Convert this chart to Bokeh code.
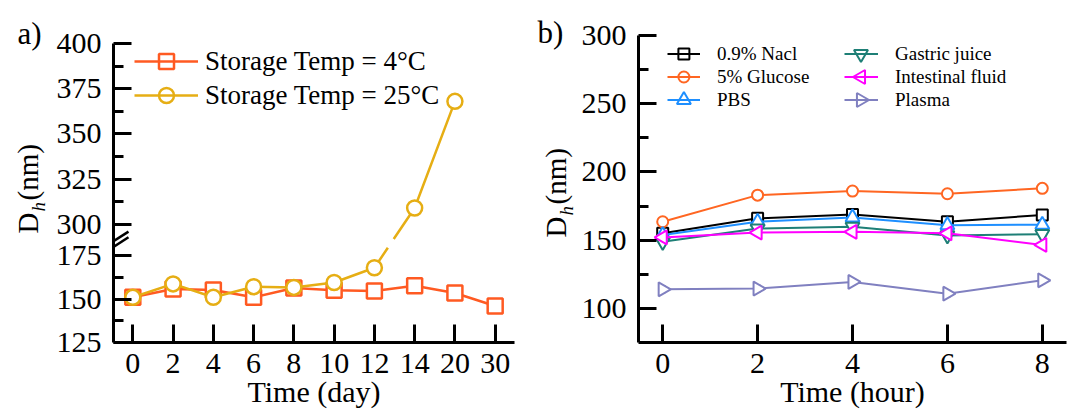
import math
from bokeh.plotting import figure
from bokeh.models import (Range1d, FixedTicker, Label, Legend, LegendItem,
                          ColumnDataSource, Whisker, TeeHead, Arrow)
from bokeh.layouts import row
from bokeh.embed import file_html
from bokeh.resources import INLINE

FONT = "Liberation Serif"

# ---------------- panel a data ----------------
day_labels = ["0", "2", "4", "6", "8", "10", "12", "14", "20", "30"]
dh_4c = [151, 155.8, 155.2, 151, 156.3, 155, 154.6, 157.7, 153.5, 146]
err_4c = [2.5, 2.5, 2.5, 2.5, 2.5, 2.5, 2.5, 2.5, 2.5, 2.5]
dh_25c = [151, 158.7, 151, 157.1, 156.7, 159.5, 168, 309, 368]
err_25c = [2, 2.5, 2.5, 2.5, 2, 2.5, 2.5, 2.5, 2.5]

# ---------------- panel b data ----------------
hours = [0, 2, 4, 6, 8]
nacl = [155, 166, 168.8, 163.5, 168.5]
glucose = [163.5, 183, 186, 184, 188]
pbs = [153.8, 163.5, 166.7, 161, 161.3]
gastric = [148.8, 158.5, 159.8, 153.5, 154.4]
intestinal = [152, 155.6, 156.1, 155, 146.5]
plasma = [114, 114.5, 119.4, 110.8, 120.6]
err_b = 2.5

# ---------------- axis break (panel a) ----------------
LOW_MAX = 182      # transformed value where the break sits
UP_MIN = 300       # first value of the upper segment
UP_T = 193         # transformed position of UP_MIN
UP_K = 1.04        # scale of the upper segment


def tr(v):
    return v if v <= LOW_MAX else UP_T + (v - UP_MIN) * UP_K


def broken_line(xs, ys, half_gap=2.5):
    ox, oy = [], []
    for i, (x, y) in enumerate(zip(xs, ys)):
        if i > 0:
            x0, y0 = xs[i - 1], ys[i - 1]
            if (y0 - LOW_MAX) * (y - LOW_MAX) < 0:
                lo, hi = LOW_MAX - half_gap, LOW_MAX + half_gap
                ya, yb = (lo, hi) if y0 < y else (hi, lo)
                xa = x0 + (ya - y0) / (y - y0) * (x - x0)
                xb = x0 + (yb - y0) / (y - y0) * (x - x0)
                ox += [xa, float("nan"), xb]
                oy += [ya, float("nan"), yb]
        ox.append(x)
        oy.append(y)
    return ox, oy


H = 412


def no_align(p):
    try:
        p.frame_align = False
    except Exception:
        pass


def style_axes(p, xlabel):
    for ax in (p.xaxis[0], p.yaxis[0]):
        ax.axis_line_width = 3
        ax.axis_line_color = "black"
        ax.major_tick_line_width = 3
        ax.minor_tick_line_width = 3
        ax.major_tick_line_color = "black"
        ax.minor_tick_line_color = "black"
        ax.major_tick_in = 18
        ax.major_tick_out = 0
        ax.minor_tick_in = 10
        ax.minor_tick_out = 0
        ax.major_label_text_font = FONT
        ax.major_label_text_font_size = "30px"
        ax.major_label_text_color = "black"
    p.yaxis[0].major_label_standoff = 12
    p.xaxis[0].major_label_standoff = 11
    p.xaxis[0].axis_label = xlabel
    p.xaxis[0].axis_label_text_font = FONT
    p.xaxis[0].axis_label_text_font_size = "30px"
    p.xaxis[0].axis_label_text_font_style = "normal"
    p.xaxis[0].axis_label_text_color = "black"
    p.xaxis[0].axis_label_standoff = -1
    p.outline_line_color = None
    p.xgrid.visible = False
    p.ygrid.visible = False
    no_align(p)


def side_fig(w):
    s = figure(width=w, height=H, x_range=Range1d(0, 1), y_range=Range1d(0, 1),
               x_axis_type=None, y_axis_type=None, output_backend="svg",
               toolbar_location=None, title=None, min_border=0)
    s.outline_line_color = None
    s.xgrid.visible = False
    s.ygrid.visible = False
    no_align(s)
    return s


def ylabel(s, base_x, d_y, h_y, nm_y):
    """rotated 'D_h(nm)'; base_x = baseline x of the big letters (page px)"""
    kw = dict(x_units="screen", y_units="screen", angle=math.pi / 2,
              text_align="left", text_baseline="middle", text_font=FONT,
              text_color="black")
    s.add_layout(Label(text="D", x=base_x - 10, y=H - d_y, text_font_size="29px", **kw))
    s.add_layout(Label(text="h", x=base_x + 1, y=H - h_y, text_font_size="19px",
                       text_font_style="italic", **kw))
    s.add_layout(Label(text="(nm)", x=base_x - 10, y=H - nm_y, text_font_size="29px", **kw))


def legend_marks(p, fw, fh, x0, y0, gw, gh, n):
    """data coords of legend glyph centres (legend bottom-left at x0, y0 in frame px)"""
    xr, yr = p.x_range, p.y_range
    cx = x0 + gw / 2
    xs, ys = [], []
    for i in range(n):
        cy = y0 + n * gh - (i + 0.5) * gh
        xs.append(xr.start + cx / fw * (xr.end - xr.start))
        ys.append(yr.start + cy / fh * (yr.end - yr.start))
    return xs, ys


# ================= side a =================
SA_W = 52
sa = side_fig(SA_W)
sa.add_layout(Label(text="a)", x=17, y=H - 33, x_units="screen", y_units="screen",
                    text_font=FONT, text_font_size="31px", text_color="black",
                    text_align="left", text_baseline="alphabetic"))
ylabel(sa, 37, 233, 211, 200)

# ================= panel a =================
P1_W = 478
L1, R1, T1, B1 = 61, 16, 43, 70
FW1, FH1 = P1_W - L1 - R1, H - T1 - B1
p1 = figure(width=P1_W, height=H, x_range=Range1d(-0.48, 9.48),
            y_range=Range1d(125, tr(400)), output_backend="svg",
            toolbar_location=None, title=None,
            min_border_left=L1, min_border_right=R1,
            min_border_top=T1, min_border_bottom=B1)
style_axes(p1, "Time (day)")
p1.xaxis.ticker = FixedTicker(ticks=list(range(len(day_labels))))
p1.xaxis.major_label_overrides = {i: lab for i, lab in enumerate(day_labels)}
major_vals = [125, 150, 175, 300, 325, 350, 375, 400]
minor_vals = [137.5, 162.5, 312.5, 337.5, 362.5, 387.5]
p1.yaxis.ticker = FixedTicker(ticks=[round(tr(v), 6) for v in major_vals],
                              minor_ticks=[round(tr(v), 6) for v in minor_vals])
p1.yaxis.major_label_overrides = {round(tr(v), 6): str(v) for v in major_vals}

C4, C25 = "#FF5A22", "#E6AE14"
series_a = [
    ("Storage Temp = 4°C", dh_4c, err_4c, C4, "square"),
    ("Storage Temp = 25°C", dh_25c, err_25c, C25, "circle"),
]
LA_X0, LA_GW, LA_GH = 21, 64, 34
LA_Y0 = FH1 - 1 - len(series_a) * LA_GH
lmx, lmy = legend_marks(p1, FW1, FH1, LA_X0, LA_Y0, LA_GW, LA_GH, len(series_a))
items_a = []
for k, (label, vals, errs, col, mk) in enumerate(series_a):
    xs = list(range(len(vals)))
    ys = [tr(v) for v in vals]
    lx, ly = broken_line(xs, ys)
    lr = p1.line(lx, ly, line_color=col, line_width=2.5)
    src = ColumnDataSource(dict(x=xs, y=ys,
                                up=[y + e for y, e in zip(ys, errs)],
                                lo=[y - e for y, e in zip(ys, errs)]))
    p1.scatter("x", "y", source=src, marker=mk, size=15, line_color=col,
               line_width=2.5, fill_color="white")
    p1.add_layout(Whisker(base="x", upper="up", lower="lo", source=src,
                          dimension="height", line_color=col, line_width=1.5,
                          upper_head=TeeHead(size=8, line_color=col, line_width=1.5),
                          lower_head=TeeHead(size=8, line_color=col, line_width=1.5)))
    # legend sample marker (drawn above the legend line)
    p1.scatter([lmx[k]], [lmy[k]], marker=mk, size=15, line_color=col,
               line_width=2.5, fill_color="white", level="overlay")
    items_a.append(LegendItem(label=label, renderers=[lr]))

leg_a = Legend(items=items_a, location=(LA_X0, LA_Y0), padding=0, margin=0,
               spacing=0, glyph_width=LA_GW, glyph_height=LA_GH, label_height=LA_GH,
               label_standoff=7, label_text_font=FONT, label_text_font_size="27px",
               label_text_color="black", border_line_color=None,
               background_fill_alpha=0)
p1.add_layout(leg_a)

# axis break marks
yb = (LOW_MAX - 125) / (tr(400) - 125) * FH1
for off in (-2.8, 2.8):
    p1.add_layout(Arrow(start=None, end=None, x_start=-13, y_start=yb + off - 9,
                        x_end=15, y_end=yb + off + 9, start_units="screen",
                        end_units="screen", line_color="black", line_width=2.5))

# ================= side b =================
SB_W = 48
sb = side_fig(SB_W)
sb.add_layout(Label(text="b)", x=7, y=H - 32, x_units="screen", y_units="screen",
                    text_font=FONT, text_font_size="31px", text_color="black",
                    text_align="left", text_baseline="alphabetic"))
ylabel(sb, 35, 237, 215, 204)

# ================= panel b =================
P2_W = 1072 - SA_W - P1_W - SB_W
L2, R2, T2, B2 = 59, 6, 35, 70
FW2, FH2 = P2_W - L2 - R2, H - T2 - B2
p2 = figure(width=P2_W, height=H, x_range=Range1d(-0.51, 8.51),
            y_range=Range1d(75, 300), output_backend="svg",
            toolbar_location=None, title=None,
            min_border_left=L2, min_border_right=R2,
            min_border_top=T2, min_border_bottom=B2)
style_axes(p2, "Time (hour)")
p2.xaxis.ticker = FixedTicker(ticks=hours)
p2.yaxis.ticker = FixedTicker(ticks=[100, 150, 200, 250, 300],
                              minor_ticks=[125, 175, 225, 275])

series_b = [
    ("0.9% Nacl", nacl, "black", "square", 0, 11),
    ("5% Glucose", glucose, "#FF6622", "circle", 0, 11),
    ("PBS", pbs, "#1E8FFF", "triangle", 0, 14),
    ("Gastric juice", gastric, "#1E7F76", "inverted_triangle", 0, 14),
    ("Intestinal fluid", intestinal, "#FF00FF", "triangle", math.pi / 2, 14),
    ("Plasma", plasma, "#8080C0", "triangle", -math.pi / 2, 14),
]
LB_GH = 23
LB_Y0 = FH2 - 7 - 3 * LB_GH
cols_b = [(29, 33), (206, 34)]
items_b = []
for k, (label, vals, col, mk, ang, sz) in enumerate(series_b):
    src = ColumnDataSource(dict(x=hours, y=vals,
                                up=[v + err_b for v in vals],
                                lo=[v - err_b for v in vals]))
    lr = p2.line("x", "y", source=src, line_color=col, line_width=2)
    p2.scatter("x", "y", source=src, marker=mk, angle=ang, size=sz,
               line_color=col, line_width=2, fill_color="white")
    p2.add_layout(Whisker(base="x", upper="up", lower="lo", source=src,
                          dimension="height", line_color=col, line_width=1.2,
                          upper_head=TeeHead(size=6, line_color=col, line_width=1.2),
                          lower_head=TeeHead(size=6, line_color=col, line_width=1.2)))
    cx0, gw = cols_b[k // 3]
    mx, my = legend_marks(p2, FW2, FH2, cx0, LB_Y0, gw, LB_GH, 3)
    p2.scatter([mx[k % 3]], [my[k % 3]], marker=mk, angle=ang, size=sz,
               line_color=col, line_width=2, fill_color="white", level="overlay")
    items_b.append(LegendItem(label=label, renderers=[lr]))

for j, (cx0, gw) in enumerate(cols_b):
    p2.add_layout(Legend(items=items_b[3 * j:3 * j + 3], location=(cx0, LB_Y0),
                         padding=0, margin=0, spacing=0, glyph_width=gw,
                         glyph_height=LB_GH, label_height=LB_GH, label_standoff=17,
                         label_text_font=FONT, label_text_font_size="19px",
                         label_text_color="black", border_line_color=None,
                         background_fill_alpha=0))

layout = row(sa, p1, sb, p2)
open("out.html", "w").write(file_html(layout, INLINE))
